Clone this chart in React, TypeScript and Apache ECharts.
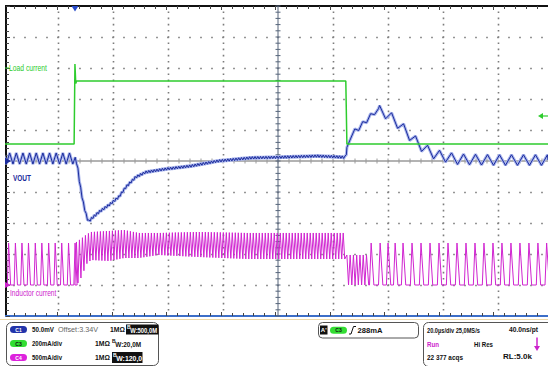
import React, { useEffect, useRef } from "react";
import * as echarts from "echarts";

const WIDTH = 548;
const HEIGHT = 366;

// Horizontal: 20 µs/div, 10 divisions, 0 µs at the screen centre
const timeMin = -100;
const timeMax = 100;
const timePerDiv = 20;

// C3 Load current, 200 mA/div (mA)
const loadTime = [-100, -73.9, -73.6, -73.3, -73.0, 25.8, 26.2, 100];
const loadCurrent = [110, 110, 626, 500, 516, 516, 110, 110];

// C1 VOUT, 50 mV/div, offset 3.34 V: centre of the trace (V)
const voutTime = [-100, -73.5, -72.7, -72.0, -70.9, -69.8, -68.7, -67.3, -64.7, -61.1, -57.5, -54.9, -51.3, -47.6, -40.4, -30.9, -21.1, -9.1, 0.7, 15.3, 25.8, 26.2, 26.9, 28.4, 30.5, 33.5, 36.4, 38.2, 40.7, 44.4, 48.0, 51.6, 55.3, 58.9, 66.2, 80.7, 100];
const voutLevel = [3.344, 3.344, 3.3335, 3.309, 3.28, 3.258, 3.242, 3.248, 3.258, 3.269, 3.282, 3.298, 3.314, 3.322, 3.327, 3.332, 3.34, 3.345, 3.346, 3.348, 3.346, 3.358, 3.377, 3.385, 3.393, 3.406, 3.419, 3.421, 3.416, 3.403, 3.387, 3.371, 3.358, 3.35, 3.343, 3.3415, 3.3415];
// VOUT ripple read per stretch of the trace
const rippleFrom = [-100, -73.5, 26.2, 38.2];
const rippleTo = [-73.5, 26.2, 38.2, 100];
const rippleHalfMV = [9, 2, 4, 8.5];
const ripplePeriodUs = [2.44, 1.0, 2.9, 4.4];

// C4 Inductor current, 500 mA/div (mA)
const ilPulseBefore = [-98.4, -95.9, -93.5, -91.1, -88.6, -86.2, -83.7, -81.3, -78.9, -76.4, -74.0];
const ilPulseAfter = [34.5, 37.8, 40.7, 43.3, 46.2, 49.5, 52.8, 56.1, 59.4, 62.7, 66.0, 69.3, 72.6, 75.9, 79.2, 82.5, 85.8, 89.1, 92.4, 95.7, 98.9];
const ilPulsePeak = 677;
const ilRiseBefore = 0.45;
const ilFallBefore = 0.75;
const ilRiseAfter = 0.6;
const ilFallAfter = 1.0;
const ccmTime = [-73.6, -72.0, -70.5, -69.1, -67.6, -61.1, -55.6, -50.2, -42.9, -28.4, -10.2, 8.0, 25.8];
const ccmTop = [677, 726, 774, 823, 855, 871, 887, 839, 839, 855, 839, 839, 839];
const ccmBottom = [0, 48, 210, 355, 403, 387, 435, 435, 484, 452, 419, 419, 419];
const ccmPeriodUs = 1.1;
const lightFrom = 26.2;
const lightTo = 34.0;
const lightPeak = 484;
const lightPeriodUs = 1.2;

function lerp(ts: number[], vs: number[], t: number) {
  if (t <= ts[0]) return vs[0];
  for (let i = 1; i < ts.length; i++) {
    if (t <= ts[i]) {
      const f = (t - ts[i - 1]) / (ts[i] - ts[i - 1]);
      return vs[i - 1] + f * (vs[i] - vs[i - 1]);
    }
  }
  return vs[vs.length - 1];
}

function buildVout() {
  const pts: number[][] = [];
  for (let s = 0; s < rippleFrom.length; s++) {
    const half = ripplePeriodUs[s] / 2;
    let k = 0;
    for (let t = rippleFrom[s]; t < rippleTo[s] - 1e-6; t += half, k++) {
      const sign = k % 2 === 0 ? 1 : -1;
      pts.push([t, lerp(voutTime, voutLevel, t) + (sign * rippleHalfMV[s]) / 1000]);
    }
  }
  pts.push([timeMax, lerp(voutTime, voutLevel, timeMax)]);
  return pts;
}

function buildIL() {
  const pts: number[][] = [[timeMin, 0]];
  for (const p of ilPulseBefore) {
    pts.push([p, 0], [p + ilRiseBefore, ilPulsePeak], [p + ilRiseBefore + ilFallBefore, 0]);
  }
  let k = 0;
  for (let t = ccmTime[0]; t <= ccmTime[ccmTime.length - 1] + 1e-6; t += ccmPeriodUs / 2, k++) {
    pts.push([t, k % 2 === 0 ? lerp(ccmTime, ccmBottom, t) : lerp(ccmTime, ccmTop, t)]);
  }
  k = 0;
  for (let t = lightFrom; t < lightTo; t += lightPeriodUs / 2, k++) {
    pts.push([t, k % 2 === 0 ? lightPeak : 0]);
  }
  pts.push([lightTo + 0.2, 0]);
  for (const p of ilPulseAfter) {
    pts.push([p, 0], [p + ilRiseAfter, ilPulsePeak], [p + ilRiseAfter + ilFallAfter, 0]);
  }
  pts.push([timeMax, 0]);
  return pts;
}

const FONT = '"Liberation Sans", Arial, sans-serif';
let measureCtx: CanvasRenderingContext2D | null = null;
function measure(text: string, size: number, bold: boolean) {
  if (!measureCtx) measureCtx = document.createElement("canvas").getContext("2d");
  measureCtx!.font = `${bold ? "bold " : ""}${size}px ${FONT}`;
  return measureCtx!.measureText(text).width || 1;
}

function label(text: string, x: number, y: number, width: number, opts: { size?: number; bold?: boolean; color?: string; align?: string } = {}) {
  const size = opts.size ?? 7.5;
  const bold = opts.bold ?? true;
  const w = measure(text, size, bold);
  return {
    type: "text",
    x,
    y,
    scaleX: width / w,
    silent: true,
    z: 30,
    style: {
      text,
      x: 0,
      y: 0,
      fontSize: size,
      fontFamily: FONT,
      fontWeight: bold ? "bold" : "normal",
      fill: opts.color ?? "#111",
      align: opts.align ?? "left",
      verticalAlign: "middle",
    },
  };
}

function pill(x: number, y: number, name: string, fill: string, textColor: string) {
  return [
    { type: "rect", z: 30, silent: true, shape: { x, y: y - 3.5, width: 17, height: 7, r: 3.5 }, style: { fill } },
    { type: "text", z: 31, silent: true, x: x + 8.5, y, style: { text: name, x: 0, y: 0, fontSize: 5, fontWeight: "bold", fontFamily: FONT, fill: textColor, align: "center", verticalAlign: "middle" } },
  ];
}

function bwLabel(x: number, y: number, value: string, width: number, color: string) {
  return [
    { type: "text", z: 31, silent: true, x, y: y - 2.5, style: { text: "B", x: 0, y: 0, fontSize: 5, fontFamily: FONT, fontWeight: "bold", fill: color, verticalAlign: "middle" } },
    label("W:" + value, x + 3.2, y + 0.5, width, { color }),
  ];
}

// graticule geometry (pixels): 10 x 10 divisions
const GX = 3, GY = 6, DIVX = 55, DIVY = 31;

function buildGraphics() {
  const g: any[] = [];
  // dotted graticule
  const dot = "#7c7c7c";
  for (let c = 1; c <= 9; c++) {
    if (c === 5) continue;
    const x = GX + DIVX * c + 0.5;
    g.push({ type: "line", z: 1, silent: true, shape: { x1: x, y1: GY + 5.4, x2: x, y2: GY + 10 * DIVY }, style: { stroke: dot, lineWidth: 1.6, lineDash: [1.6, 4.6] } });
  }
  for (let r = 1; r <= 9; r++) {
    if (r === 5) continue;
    const y = GY + DIVY * r + 0.5;
    const startX = r === 2 ? GX + 4 * 11 + 10.2 : GX + 10.2;
    g.push({ type: "line", z: 1, silent: true, shape: { x1: startX, y1: y, x2: 548, y2: y }, style: { stroke: dot, lineWidth: 1.6, lineDash: [1.6, 9.4] } });
  }
  // centre cross of the graticule
  g.push({ type: "line", z: 1, silent: true, shape: { x1: 3, y1: 161, x2: 548, y2: 161 }, style: { stroke: "#9a9a9a", lineWidth: 1.5 } });
  for (let k = 0; k <= 50; k++) {
    const x = 3 + 11 * k;
    g.push({ type: "line", z: 1, silent: true, shape: { x1: x, y1: 158.5, x2: x, y2: 163.5 }, style: { stroke: "#9a9a9a", lineWidth: 1 } });
  }
  g.push({ type: "line", z: 1, silent: true, shape: { x1: 278, y1: 6, x2: 278, y2: 316 }, style: { stroke: "#56657a", lineWidth: 1 } });
  for (let k = 0; k <= 50; k++) {
    const y = 6 + 6.2 * k;
    g.push({ type: "line", z: 1, silent: true, shape: { x1: 275.5, y1: y, x2: 280.5, y2: y }, style: { stroke: "#56657a", lineWidth: 1 } });
  }
  // white margin left of the frame
  g.push({ type: "rect", z: 25, silent: true, shape: { x: 0, y: 0, width: 5, height: 320 }, style: { fill: "#fff" } });
  // pale line below the frame
  g.push({ type: "line", z: 25, silent: true, shape: { x1: 0, y1: 319.5, x2: 548, y2: 319.5 }, style: { stroke: "#ecd7a8", lineWidth: 1 } });
  // trigger position marker
  g.push({ type: "polygon", z: 30, silent: true, shape: { points: [[71.5, 6], [78.5, 6], [75, 11.5]] }, style: { fill: "#2448c8" } });
  // channel markers
  g.push({ type: "polygon", z: 30, silent: true, shape: { points: [[5, 157.5], [11, 161], [5, 164.5]] }, style: { fill: "#1c2c9c" } });
  g.push({ type: "line", z: 30, silent: true, shape: { x1: 5, y1: 68, x2: 9, y2: 68 }, style: { stroke: "#2ecc2e", lineWidth: 1 } });
  g.push({ type: "polygon", z: 30, silent: true, shape: { points: [[5, 282], [11, 285], [5, 288]] }, style: { fill: "#cc22cc" } });
  g.push({ type: "polygon", z: 30, silent: true, shape: { points: [[538, 116], [543, 113], [543, 119]] }, style: { fill: "#2ecc2e" } });
  g.push({ type: "line", z: 30, silent: true, shape: { x1: 542, y1: 116, x2: 548, y2: 116 }, style: { stroke: "#2ecc2e", lineWidth: 1.2 } });
  // trace labels
  g.push(label("Load current", 9, 68, 38, { size: 8.5, bold: false, color: "#2ecc2e" }));
  g.push(label("VOUT", 13, 178.5, 18, { size: 8.5, bold: true, color: "#1c2c9c" }));
  g.push(label("Inductor current", 10, 293.5, 46.5, { size: 8.5, bold: false, color: "#cc22cc" }));

  // channel panel
  g.push({ type: "rect", z: 29, silent: true, shape: { x: 6.5, y: 322.5, width: 152, height: 43, r: 5 }, style: { fill: "#fff", stroke: "#555", lineWidth: 1 } });
  g.push(...pill(10, 329.5, "C1", "#2233aa", "#fff"));
  g.push(label("50.0mV", 32, 329.5, 22));
  g.push(label("Offset:3.34V", 58, 329.5, 40, { bold: false, color: "#666" }));
  g.push(label("1MΩ", 110, 329.5, 15));
  g.push({ type: "rect", z: 30, silent: true, shape: { x: 126, y: 324.5, width: 32.5, height: 10 }, style: { fill: "#111" } });
  g.push(...bwLabel(127, 329.5, "500,0M", 27, "#fff"));

  g.push(...pill(10, 343.5, "C3", "#33dd33", "#111"));
  g.push(label("200mA/div", 32, 343.5, 30));
  g.push(label("1MΩ", 95, 343.5, 15));
  g.push(...bwLabel(112, 343.5, "20,0M", 26, "#111"));

  g.push(...pill(10, 357.5, "C4", "#dd22dd", "#fff"));
  g.push(label("500mA/div", 32, 357.5, 30));
  g.push(label("1MΩ", 95, 357.5, 15));
  g.push({ type: "rect", z: 30, silent: true, shape: { x: 112, y: 352, width: 30.5, height: 11 }, style: { fill: "#111" } });
  g.push(...bwLabel(113, 357.5, "120,0", 26, "#fff"));

  // trigger panel
  g.push({ type: "rect", z: 29, silent: true, shape: { x: 318.5, y: 322.5, width: 100, height: 15.5, r: 4 }, style: { fill: "#fff", stroke: "#555", lineWidth: 1 } });
  g.push({ type: "rect", z: 30, silent: true, shape: { x: 320, y: 325.5, width: 7.5, height: 9 }, style: { fill: "#111" } });
  g.push({ type: "text", z: 31, silent: true, x: 323.7, y: 330, style: { text: "A'", x: 0, y: 0, fontSize: 6, fontWeight: "bold", fontFamily: FONT, fill: "#fff", align: "center", verticalAlign: "middle" } });
  g.push(...pill(330, 330.3, "C3", "#33dd33", "#111"));
  g.push({ type: "polyline", z: 30, silent: true, shape: { points: [[349, 334], [351, 334], [353.5, 326.5], [356, 326.5]] }, style: { stroke: "#111", lineWidth: 1, fill: "none" } });
  g.push(label("288mA", 357.5, 330.3, 25));

  // timebase panel
  g.push({ type: "rect", z: 29, silent: true, shape: { x: 423.5, y: 322.5, width: 130, height: 44, r: 5 }, style: { fill: "#fff", stroke: "#555", lineWidth: 1 } });
  g.push(label("20.0µs/div 25,0MS/s", 427, 330, 53));
  g.push(label("40.0ns/pt", 509, 330, 29));
  g.push(label("Run", 427, 344, 12, { color: "#cc22cc" }));
  g.push(label("Hi Res", 474, 344, 19));
  g.push({ type: "line", z: 30, silent: true, shape: { x1: 537, y1: 337.5, x2: 537, y2: 347 }, style: { stroke: "#cc22cc", lineWidth: 1.5 } });
  g.push({ type: "polygon", z: 30, silent: true, shape: { points: [[534, 346], [540, 346], [537, 351]] }, style: { fill: "#cc22cc" } });
  g.push(label("22 377 acqs", 427, 357, 36));
  g.push(label("RL:5.0k", 503, 357, 29));
  return g;
}

export default function App() {
  const ref = useRef<HTMLDivElement>(null);
  useEffect(() => {
    const chart = echarts.init(ref.current!, null, { renderer: "svg" });
    const loadData = loadTime.map((t, i) => [t, loadCurrent[i]]);
    const voutData = buildVout();
    const ilData = buildIL();
    const tickStyle = { color: "#444", width: 1 };
    const option: any = {
      animation: false,
      backgroundColor: "#fff",
      grid: { left: 3, top: 6, width: 550, height: 310, containLabel: false },
      xAxis: [
        {
          type: "value",
          min: timeMin,
          max: timeMax,
          interval: timePerDiv,
          position: "bottom",
          axisLine: { show: true, onZero: false, lineStyle: { color: "#3c6ec8", width: 2 } },
          axisTick: { show: true, inside: true, length: 4, lineStyle: tickStyle },
          minorTick: { show: true, splitNumber: 5, length: 3, lineStyle: tickStyle },
          axisLabel: { show: false },
          splitLine: { show: false },
        },
        {
          type: "value",
          min: timeMin,
          max: timeMax,
          interval: timePerDiv,
          position: "top",
          axisLine: { show: true, onZero: false, lineStyle: { color: "#111", width: 2 } },
          axisTick: { show: true, inside: true, length: 4, lineStyle: tickStyle },
          minorTick: { show: true, splitNumber: 5, length: 3, lineStyle: tickStyle },
          axisLabel: { show: false },
          splitLine: { show: false },
        },
      ],
      yAxis: [
        {
          type: "value",
          min: 0,
          max: 10,
          interval: 1,
          position: "left",
          offset: -3,
          axisLine: { show: true, onZero: false, lineStyle: { color: "#111", width: 2 } },
          axisTick: { show: true, inside: true, length: 4, lineStyle: tickStyle },
          minorTick: { show: true, splitNumber: 5, length: 3, lineStyle: tickStyle },
          axisLabel: { show: false },
          splitLine: { show: false },
        },
        { type: "value", min: -1000, max: 1000, show: false },
        { type: "value", min: 3.09, max: 3.59, show: false },
        { type: "value", min: -500, max: 4500, show: false },
      ],
      series: [
        {
          name: "Inductor current",
          type: "line",
          xAxisIndex: 0,
          yAxisIndex: 3,
          data: ilData,
          symbol: "none",
          clip: true,
          lineStyle: { color: "#d024d0", width: 1 },
          z: 3,
        },
        {
          name: "VOUT halo",
          type: "line",
          xAxisIndex: 0,
          yAxisIndex: 2,
          data: voutData,
          symbol: "none",
          clip: true,
          lineStyle: { color: "#a9b5ec", width: 3 },
          z: 4,
        },
        {
          name: "VOUT",
          type: "line",
          xAxisIndex: 0,
          yAxisIndex: 2,
          data: voutData,
          symbol: "none",
          clip: true,
          lineStyle: { color: "#1c2c9c", width: 1 },
          z: 5,
        },
        {
          name: "Load current",
          type: "line",
          xAxisIndex: 0,
          yAxisIndex: 1,
          data: loadData,
          symbol: "none",
          clip: true,
          lineStyle: { color: "#2ecc2e", width: 1.5 },
          z: 6,
        },
      ],
      graphic: buildGraphics(),
    };
    chart.setOption(option);
    return () => chart.dispose();
  }, []);
  return <div ref={ref} style={{ position: "fixed", left: 0, top: 0, width: WIDTH, height: HEIGHT, background: "#fff" }} />;
}
